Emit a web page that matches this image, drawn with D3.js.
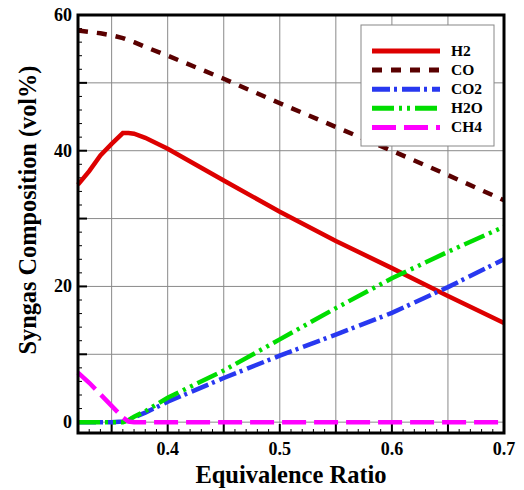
<!DOCTYPE html>
<html><head><meta charset="utf-8">
<script src="https://cdn.jsdelivr.net/npm/d3@7"></script>
<style>body{margin:0;background:#fff}</style></head>
<body><svg id="c" width="524" height="490"></svg>
<script>
const ratio = [0.32,0.33,0.34,0.35,0.36,0.365,0.37,0.38,0.4,0.45,0.5,0.55,0.6,0.65,0.7];
const H2  = [35,37,39.3,41,42.6,42.6,42.5,41.9,40.3,35.6,31,26.7,22.7,18.6,14.6];
const CO  = [57.7,57.5,57.3,57.0,56.6,56.3,56.0,55.3,54.0,50.6,47.0,43.5,40.0,36.4,32.7];
const CO2 = [0,0,0,0,0.1,0.3,0.7,1.4,3.0,6.5,9.8,12.9,16.1,19.9,24.0];
const H2O = [0,0,0,0,0,0.3,0.8,1.6,3.6,7.6,12.2,16.8,21.2,25.1,28.8];
const CH4 = [7.3,5.8,4.1,2.4,0.7,0.1,0,0,0,0,0,0,0,0,0];
const seriesNames = ["H2","CO","CO2","H2O","CH4"];
const xTickLabels = [0.4,0.5,0.6,0.7];
const yTickLabels = [0,20,40,60];

const styles = {
  H2:{color:"#dd0000",dash:null,w:4.5},
  CO:{color:"#5a0000",dash:"10,9",w:4.5},
  CO2:{color:"#2838f0",dash:"18,4,3,5",w:4.5},
  H2O:{color:"#00dd00",dash:"22,5,3,5,3,5",w:4.5},
  CH4:{color:"#ff00ff",dash:"24,8",w:4.5}
};
const dataMap = {H2,CO,CO2,H2O,CH4};

const svg = d3.select("#c");
const L=78,R=504,T=15,B=433;
const x = d3.scaleLinear().domain([0.32,0.7]).range([L,R]);
const y = d3.scaleLinear().domain([-1.6,60]).range([B,T]);
const font = "'Liberation Serif','Times New Roman',serif";

// grid
svg.append("g").selectAll("line").data(d3.range(0.35,0.7,0.05)).join("line")
  .attr("x1",d=>x(d)).attr("x2",d=>x(d)).attr("y1",T).attr("y2",B)
  .attr("stroke","#8a8a8a").attr("stroke-width",1);
svg.append("g").selectAll("line").data(d3.range(0,60,10)).join("line")
  .attr("x1",L).attr("x2",R).attr("y1",d=>y(d)).attr("y2",d=>y(d))
  .attr("stroke","#8a8a8a").attr("stroke-width",1);

// minor/major ticks
svg.append("g").selectAll("line").data(d3.range(0,60.01,2)).join("line")
  .attr("x1",L).attr("x2",d=>L+(d%10===0?9:4)).attr("y1",d=>y(d)).attr("y2",d=>y(d))
  .attr("stroke","#000").attr("stroke-width",d=>d%10===0?2:1);
svg.append("g").selectAll("line").data(d3.range(32,71,1).map(v=>v/100)).join("line")
  .attr("x1",d=>x(d)).attr("x2",d=>x(d)).attr("y1",B)
  .attr("y2",d=>B-(Math.round(d*100)%5===0?9:4))
  .attr("stroke","#000").attr("stroke-width",d=>Math.round(d*100)%5===0?2:1);

// lines
const line = d3.line().x((d,i)=>x(ratio[i])).y(d=>y(d));
seriesNames.forEach(n=>{
  const s=styles[n];
  svg.append("path").attr("d",line(dataMap[n])).attr("fill","none")
    .attr("stroke",s.color).attr("stroke-width",s.w)
    .attr("stroke-dasharray",s.dash).attr("stroke-linejoin","miter");
});

// frame
svg.append("rect").attr("x",L).attr("y",T).attr("width",R-L).attr("height",B-T)
  .attr("fill","none").attr("stroke","#000").attr("stroke-width",3);

// tick labels
svg.append("g").selectAll("text").data(xTickLabels).join("text")
  .attr("x",d=>x(d)).attr("y",455).attr("text-anchor","middle")
  .attr("font-family",font).attr("font-weight","bold").attr("font-size",18)
  .text(d=>d.toFixed(1));
svg.append("g").selectAll("text").data(yTickLabels).join("text")
  .attr("x",72).attr("y",d=>y(d)+6).attr("text-anchor","end")
  .attr("font-family",font).attr("font-weight","bold").attr("font-size",18)
  .text(d=>d);

// axis titles
svg.append("text").attr("x",291).attr("y",483).attr("text-anchor","middle")
  .attr("font-family",font).attr("font-weight","bold").attr("font-size",24.5)
  .text("Equivalence Ratio");
svg.append("text").attr("transform","translate(36,210) rotate(-90)").attr("text-anchor","middle")
  .attr("font-family",font).attr("font-weight","bold").attr("font-size",24.3)
  .text("Syngas Composition (vol%)");

// legend
const lg = svg.append("g");
lg.append("rect").attr("x",361).attr("y",25).attr("width",133).attr("height",121)
  .attr("fill","#fff").attr("stroke","#888").attr("stroke-width",1);
seriesNames.forEach((n,i)=>{
  const s=styles[n], yy=51+i*19.1;
  lg.append("line").attr("x1",372).attr("x2",440).attr("y1",yy).attr("y2",yy)
    .attr("stroke",s.color).attr("stroke-width",5).attr("stroke-dasharray",s.dash);
  lg.append("text").attr("x",451).attr("y",yy+5).attr("font-family",font)
    .attr("font-weight","bold").attr("font-size",15.5).text(n);
});
</script></body></html>
